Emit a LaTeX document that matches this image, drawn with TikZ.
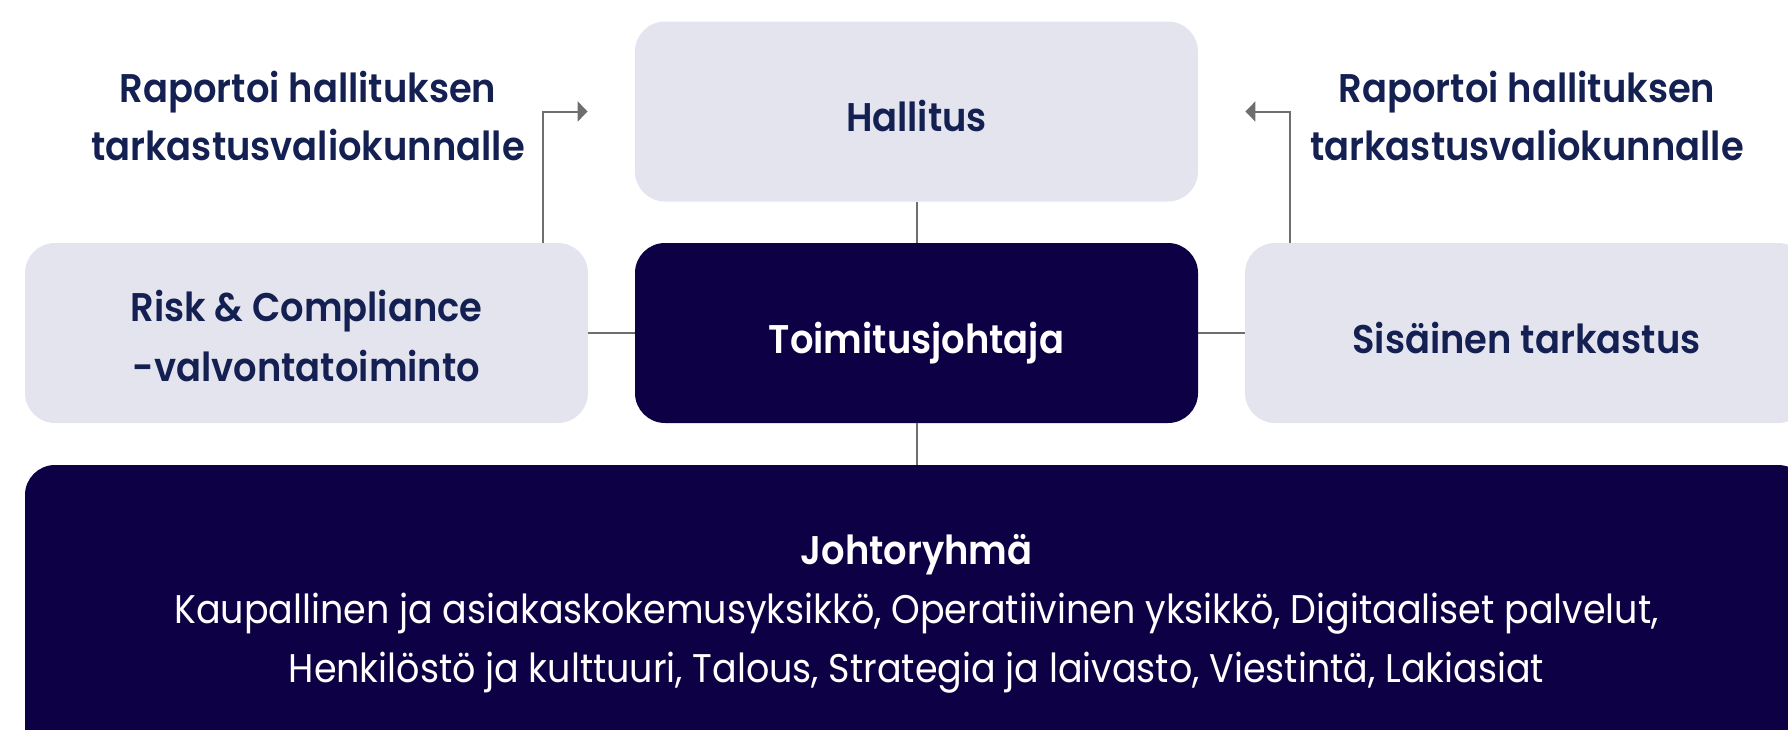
\documentclass[tikz,border=0pt]{standalone}
\usepackage{fontspec}
\setmainfont{Poppins}[FakeStretch=0.912]
\newfontfamily\medfont{Poppins SemiBold}[FakeStretch=0.922]
\usetikzlibrary{arrows.meta}

\definecolor{boxgrey}{RGB}{228,228,239}
\definecolor{boxnavy}{RGB}{14,0,68}
\definecolor{textnavy}{RGB}{20,32,82}
\definecolor{linegrey}{RGB}{110,110,110}

\tikzset{
  lightbox/.style={rectangle, rounded corners=15pt, fill=boxgrey, text=textnavy,
    minimum width=281.5pt, minimum height=90pt, inner sep=0pt, align=center,
    font=\medfont\fontsize{20}{30}\selectfont},
  darkbox/.style={lightbox, fill=boxnavy, text=white},
  onelinebox/.style={text height=20pt, text depth=0pt},
  reportlabel/.style={text=textnavy, align=center, inner sep=0pt,
    font=\medfont\fontsize{20}{29}\selectfont},
  conn/.style={draw=linegrey, line width=1pt},
  arr/.style={conn, -{Triangle[length=5pt,width=10pt]}}
}

\begin{document}
\begin{tikzpicture}[x=0.5pt,y=-0.5pt]
    \useasboundingbox (0,0) rectangle (1788,729);
    \clip (0,0) rectangle (1788,729);
    % boxes
    \node[lightbox, onelinebox] (hallitus) at (916.5,111.5) {Hallitus};
    \node[darkbox, onelinebox] (toimitus) at (916.5,333) {Toimitusjohtaja};
    \node[lightbox] (risk) at (306.5,333) {\rule{0pt}{19pt}Risk \& Compliance\\-valvontatoiminto};
    \node[lightbox, onelinebox] (sisainen) at (1526.5,333) {Sisäinen tarkastus};
    \node[darkbox, minimum width=891.5pt, minimum height=148.5pt,
      font=\medfont\fontsize{20}{29.5}\selectfont] (johto) at (916.5,613.5)
      {Johtoryhmä\\\normalfont Kaupallinen ja asiakaskokemusyksikkö, Operatiivinen yksikkö, Digitaaliset palvelut,\\
       \normalfont Henkilöstö ja kulttuuri, Talous, Strategia ja laivasto, Viestintä, Lakiasiat};
    % labels
    \node[reportlabel] (lreport) at (308,116) {Raportoi hallituksen\\tarkastusvaliokunnalle};
    \node[reportlabel] (rreport) at (1527,116) {Raportoi hallituksen\\tarkastusvaliokunnalle};
    % connectors
    \coordinate (lknee) at (543,112);
    \coordinate (rknee) at (1290,112);
    \draw[conn] (hallitus) -- (toimitus);
    \draw[conn] (risk) -- (toimitus);
    \draw[conn] (toimitus) -- (sisainen);
    \draw[conn] (toimitus) -- (johto);
    \draw[arr] (risk.north -| lknee) |- ([xshift=-23.5pt]hallitus.west);
    \draw[arr] (sisainen.north -| rknee) |- ([xshift=23.5pt]hallitus.east);
\end{tikzpicture}
\end{document}
